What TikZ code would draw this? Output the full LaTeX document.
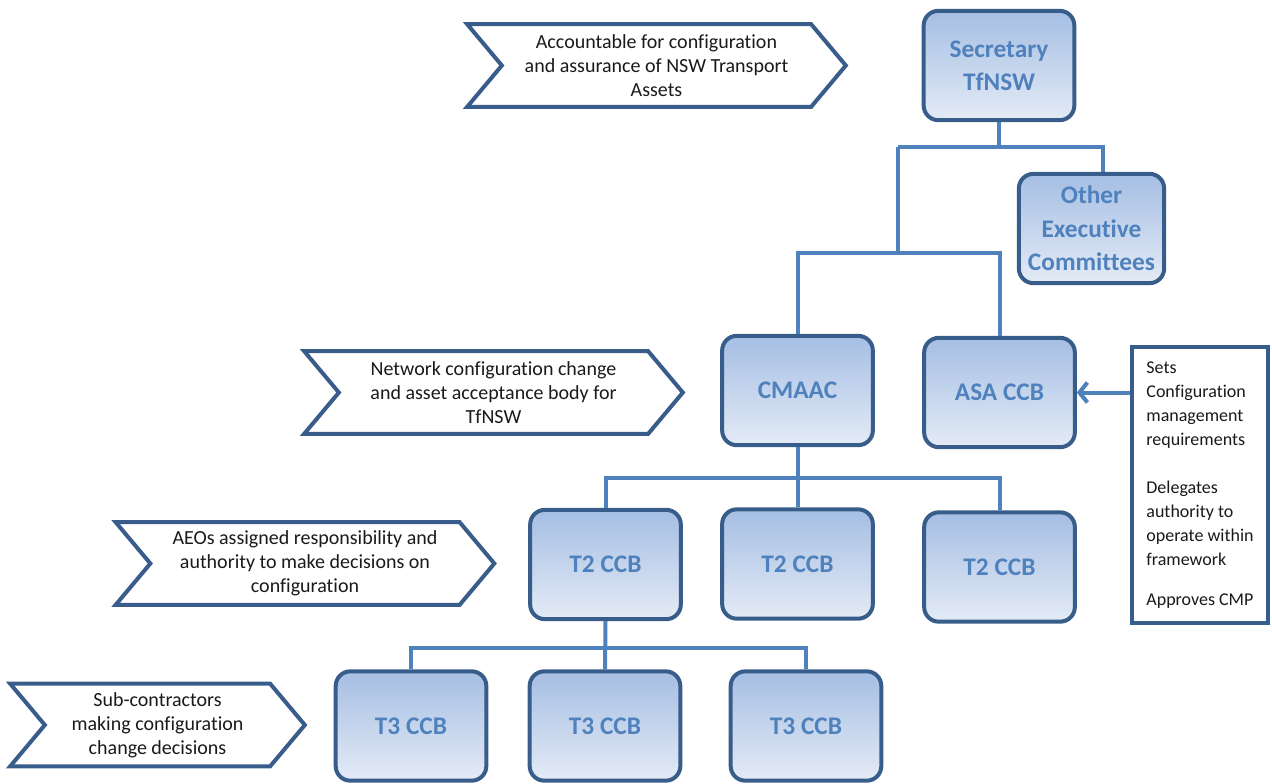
\documentclass[tikz,border=0pt]{standalone}
\usepackage{fontspec}
\setmainfont{Carlito}[Ligatures=NoCommon]
\usetikzlibrary{shapes.symbols,arrows.meta}
\definecolor{boxline}{HTML}{385D8A}
\definecolor{linkblue}{HTML}{4F81BD}
\definecolor{boxtop}{HTML}{A5BEE3}
\definecolor{boxbot}{HTML}{E4EBF6}
\definecolor{chevtext}{HTML}{1A1A1A}
\tikzset{
  ccb/.style={draw=boxline, line width=3pt, rounded corners=11pt,
    top color=boxtop, bottom color=boxbot, text=linkblue,
    font=\fontsize{19}{25}\selectfont\bfseries, align=center,
    minimum width=113pt, minimum height=82pt, inner sep=0pt},
  link/.style={draw=linkblue, line width=3pt},
  chev/.style={shape=signal, signal from=west, signal to=east,
    signal pointer angle=100, draw=boxline, line width=3pt, fill=white,
    text=chevtext, font=\fontsize{15}{18}\selectfont, align=center,
    minimum width=284pt, minimum height=62pt, inner sep=1pt},
  notebox/.style={draw=boxline, line width=3pt, fill=white, text=chevtext,
    font=\fontsize{13.5}{18}\selectfont, align=left,
    minimum width=102pt, minimum height=207pt, inner sep=0pt}
}
\begin{document}
\begin{tikzpicture}[x=0.75pt,y=0.75pt,yscale=-1,xscale=1]
	\useasboundingbox (0,0) rectangle (1272,783);

	% Chevron labels
	\node[chev] (chsec) at (656.5,65.5) {Accountable for configuration\\and assurance of NSW Transport\\Assets};
	\node[chev] (chcma) at (493.5,392.5) {Network configuration change\\and asset acceptance body for\\TfNSW};
	\node[chev] (cht2) at (305,563.5) {AEOs assigned responsibility and\\authority to make decisions on\\configuration};
	\node[chev, minimum width=221pt] (cht3) at (157.5,725) {Sub-contractors\\making configuration\\change decisions};

	% Boxes
	\node[ccb] (sec) at (999,65.5) {Secretary\\TfNSW};
	\node[ccb, minimum width=109pt] (oth) at (1091.5,228.5) {Other\\Executive\\Committees};
	\node[ccb] (cmaac) at (797.5,390.5) {CMAAC};
	\node[ccb] (asa) at (999.5,392.5) {ASA CCB};
	\node[ccb] (t2a) at (605.5,564.5) {T2 CCB};
	\node[ccb] (t2b) at (797.5,564) {T2 CCB};
	\node[ccb] (t2c) at (999.5,567) {T2 CCB};
	\node[ccb] (t3a) at (411,726) {T3 CCB};
	\node[ccb] (t3b) at (605,726) {T3 CCB};
	\node[ccb] (t3c) at (806,726) {T3 CCB};

	% Side note
	\node[notebox] (asanote) at (1200,485) {Sets\\Configuration\\management\\requirements\\[18pt]Delegates\\authority to\\operate within\\framework\\[12pt]Approves CMP};

	% Bus points
	\coordinate (b1) at (898,147);
	\coordinate (b2) at (898,253);
	\coordinate (b3) at (797.5,478);
	\coordinate (b4) at (605,648);

	% Connectors
	\draw[link] (sec.south) -- (sec.south |- b1);
	\draw[link] (b1) -| ([xshift=8.6pt]oth.north);
	\draw[link] (b1) -- (b2);
	\draw[link] (cmaac.north) |- (b2) -| (asa.north);
	\draw[link] (cmaac.south) -- (t2b.north);
	\draw[link] (t2a.north) |- (b3) -| (t2c.north);
	\draw[link] (t2a.south) -- (t3b.north);
	\draw[link] (t3a.north) |- (b4) -| (t3c.north);
	\draw[link, -{Straight Barb[length=6pt,width=15pt]}] (asanote.west |- asa) -- (asa.east);

\end{tikzpicture}
\end{document}
